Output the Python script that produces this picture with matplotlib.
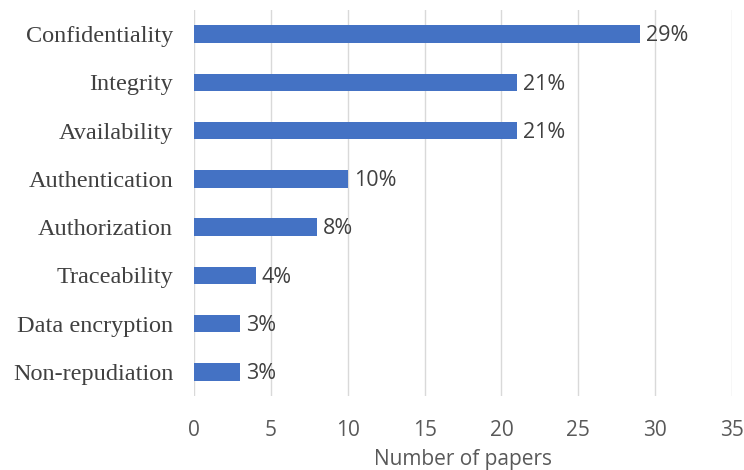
import matplotlib
matplotlib.use('Agg')
import matplotlib.pyplot as plt

# data (top to bottom)
categories = ['Confidentiality', 'Integrity', 'Availability', 'Authentication',
              'Authorization', 'Traceability', 'Data encryption', 'Non-repudiation']
papers = [29, 21, 21, 10, 8, 4, 3, 3]
pct_labels = ['29%', '21%', '21%', '10%', '8%', '4%', '3%', '3%']
xticks = [0, 5, 10, 15, 20, 25, 30, 35]

fig = plt.figure(figsize=(7.44, 4.70), dpi=100)
ax = fig.add_axes([0.2608, 0.1574, 0.7232, 0.8213])

ypos = list(range(len(categories)))
bars = ax.barh(ypos, papers, height=0.36, color='#4472C4', zorder=3)
ax.set_ylim(len(categories) - 0.5, -0.5)
ax.set_xlim(0, 35)

ax.set_yticks(ypos)
ax.set_yticklabels(categories, family='Liberation Serif', fontsize=17.5, color='#404040')
ax.set_xticks(xticks)
ax.set_xticklabels([str(t) for t in xticks], family='Open Sans', fontsize=15, color='#595959')
ax.tick_params(axis='both', length=0)
ax.tick_params(axis='x', pad=17)
ax.tick_params(axis='y', pad=15)

# percentage labels at bar ends
for b, lab in zip(bars, pct_labels):
    ax.annotate(lab, (b.get_width(), b.get_y() + b.get_height() / 2),
                xytext=(4.5, -1.2), textcoords='offset points', va='center', ha='left',
                family='Open Sans', fontsize=15.5, color='#404040')

ax.grid(axis='x', color='#D9D9D9', linewidth=1, zorder=0)
ax.grid(axis='y', visible=False)
for s in ax.spines.values():
    s.set_visible(False)

ax.set_xlabel('Number of papers', family='Open Sans', fontsize=15, color='#595959')
ax.xaxis.set_label_coords(0.5, -0.137)

fig.savefig('out.png', dpi=100)
